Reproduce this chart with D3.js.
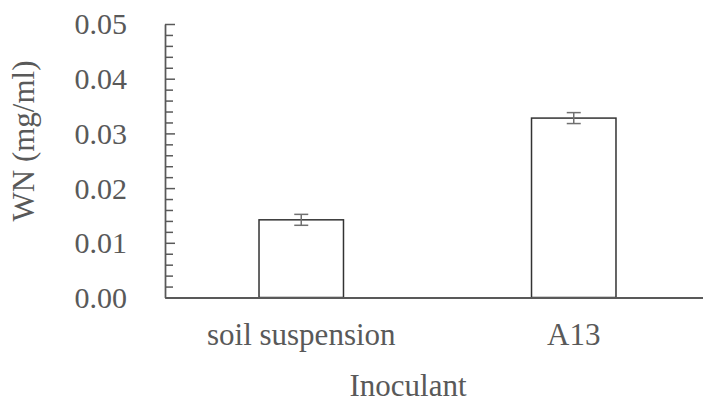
<!DOCTYPE html>
<html>
<head>
<meta charset="utf-8">
<script src="https://cdn.jsdelivr.net/npm/d3@7/dist/d3.min.js"></script>
<style>
  html, body { margin: 0; padding: 0; background: #fff; }
  svg { display: block; }
  text { font-family: "Liberation Serif", "Tinos", "Times New Roman", "DejaVu Serif", serif; fill: #595959; }
</style>
</head>
<body>
<svg id="chart" width="703" height="403"></svg>
<script>
// Water-soluble nitrogen by inoculant
const categories = ["soil suspension", "A13"];
const wnValues = [0.0142, 0.0328];
const wnErrors = [0.001, 0.001];
const yTicks = [0, 0.01, 0.02, 0.03, 0.04, 0.05];
const yMinorTicks = d3.range(0, 0.0501, 0.002).filter(v => Math.abs(v * 100 - Math.round(v * 100)) > 1e-6);

const svg = d3.select("#chart");
const plotLeft = 165, plotRight = 710, plotTop = 24, plotBottom = 297.5;

const y = d3.scaleLinear().domain([0, 0.05]).range([plotBottom, plotTop]);
const x = d3.scaleBand().domain(categories).range([plotLeft, plotRight])
  .paddingInner(0.69).paddingOuter(0.345);

// bars
svg.append("g").selectAll("rect").data(categories).join("rect")
  .attr("x", d => x(d))
  .attr("y", (d, i) => y(wnValues[i]))
  .attr("width", x.bandwidth())
  .attr("height", (d, i) => y(0) - y(wnValues[i]))
  .attr("fill", "#ffffff")
  .attr("stroke", "#333333")
  .attr("stroke-width", 1.5);

// error bars
const eb = svg.append("g").attr("stroke", "#707070").attr("stroke-width", 1.5);
categories.forEach((c, i) => {
  const cx = x(c) + x.bandwidth() / 2;
  const hi = y(wnValues[i] + wnErrors[i]);
  const lo = y(wnValues[i] - wnErrors[i]);
  eb.append("line").attr("x1", cx).attr("x2", cx).attr("y1", hi).attr("y2", lo);
  eb.append("line").attr("x1", cx - 7).attr("x2", cx + 7).attr("y1", hi).attr("y2", hi);
  eb.append("line").attr("x1", cx - 7).attr("x2", cx + 7).attr("y1", lo).attr("y2", lo);
});

// minor y ticks
const minorAxis = svg.append("g").attr("transform", `translate(${plotLeft},0)`)
  .call(d3.axisLeft(y).tickValues(yMinorTicks).tickSizeInner(-8).tickSizeOuter(0).tickFormat(""));
minorAxis.select(".domain").remove();
minorAxis.selectAll("line").attr("stroke", "#595959").attr("stroke-width", 1.5);

// major y axis
const yAxis = svg.append("g").attr("transform", `translate(${plotLeft},0)`)
  .call(d3.axisLeft(y).tickValues(yTicks).tickSizeInner(-10).tickSizeOuter(0)
    .tickPadding(38).tickFormat(d3.format(".2f")));
yAxis.attr("font-family", null);
yAxis.select(".domain").attr("stroke", "#595959").attr("stroke-width", 1.75);
yAxis.selectAll("line").attr("stroke", "#595959").attr("stroke-width", 1.5);
yAxis.selectAll("text").attr("font-size", 30).attr("dy", "0.33em");

// x axis
const xAxis = svg.append("g").attr("transform", `translate(0,${plotBottom})`)
  .call(d3.axisBottom(x).tickSize(0).tickPadding(0));
xAxis.attr("font-family", null);
xAxis.select(".domain").attr("stroke", "#595959").attr("stroke-width", 2);
xAxis.selectAll("text").attr("font-size", 31).attr("dy", null).attr("y", 47.5);

// axis titles
svg.append("text").attr("x", 408).attr("y", 396)
  .attr("text-anchor", "middle").attr("font-size", 31).text("Inoculant");
svg.append("text").attr("transform", "translate(34,141) rotate(-90)")
  .attr("text-anchor", "middle").attr("font-size", 31).text("WN (mg/ml)");
</script>
</body>
</html>
